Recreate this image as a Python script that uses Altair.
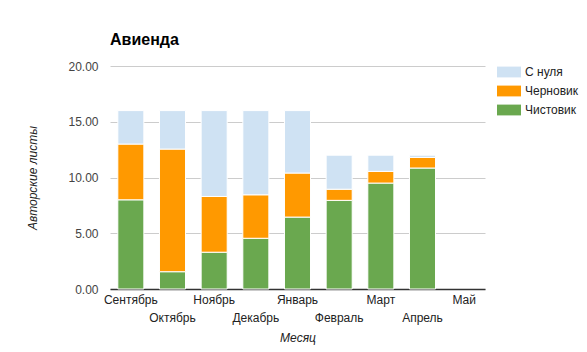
import altair as alt
import pandas as pd

months = ['Сентябрь', 'Октябрь', 'Ноябрь', 'Декабрь', 'Январь',
          'Февраль', 'Март', 'Апрель', 'Май']
series_names = ['С нуля', 'Черновик', 'Чистовик']
series_colors = ['#cfe2f3', '#ff9900', '#6aa84f']

# values per month (Май has no data)
clean = [8.0, 1.55, 3.3, 4.55, 6.45, 7.95, 9.5, 10.85]     # Чистовик
draft = [5.0, 11.0, 5.0, 3.9, 3.95, 1.0, 1.05, 0.95]      # Черновик
scratch = [3.0, 3.45, 7.7, 7.55, 5.6, 3.05, 1.45, 0.2]    # С нуля

rows = []
for i, m in enumerate(months[:len(clean)]):
    rows.append({'Месяц': m, 'Серия': 'Чистовик', 'v': clean[i], 'rank': 0})
    rows.append({'Месяц': m, 'Серия': 'Черновик', 'v': draft[i], 'rank': 1})
    rows.append({'Месяц': m, 'Серия': 'С нуля', 'v': scratch[i], 'rank': 2})
df = pd.DataFrame(rows)

FONT = 'Liberation Sans, Arial, sans-serif'
second_row = "indexof(['Октябрь','Декабрь','Февраль','Апрель'], datum.value) >= 0"

chart = alt.Chart(df).mark_bar(stroke='white', strokeWidth=1).encode(
    x=alt.X('Месяц:N', sort=months,
            scale=alt.Scale(domain=months, paddingInner=0.375, paddingOuter=0.1875),
            axis=alt.Axis(title='Месяц', labelAngle=0, labelOverlap=False,
                          labelFont=FONT, labelFontSize=12, labelColor='#222',
                          labelPadding={'condition': {'test': second_row, 'value': 23}, 'value': 5},
                          ticks=False, domainColor='#333', domainWidth=1.5,
                          titleFont=FONT, titleFontSize=12, titleFontStyle='italic',
                          titleFontWeight='normal', titleColor='#222', titlePadding=9)),
    y=alt.Y('v:Q', stack='zero',
            scale=alt.Scale(domain=[0, 20], nice=False),
            axis=alt.Axis(title='Авторские листы', values=[0, 5, 10, 15, 20], format='.2f',
                          labelFont=FONT, labelFontSize=12, labelColor='#444',
                          labelPadding=12, ticks=False, domain=False,
                          gridColor='#cccccc', gridWidth=1,
                          titleFont=FONT, titleFontSize=12, titleFontStyle='italic',
                          titleFontWeight='normal', titleColor='#222', titlePadding=28)),
    color=alt.Color('Серия:N',
                    scale=alt.Scale(domain=series_names, range=series_colors),
                    legend=alt.Legend(title=None, orient='none', legendX=393, legendY=0,
                                      symbolType='M-2,-0.9H2V0.9H-2Z', symbolSize=144,
                                      symbolStrokeWidth=0, symbolOpacity=1,
                                      labelFont=FONT, labelFontSize=12, labelColor='#222',
                                      labelOffset=10, rowPadding=7, padding=0)),
    order=alt.Order('rank:Q', sort='ascending'),
).properties(
    width=375, height=223,
    title=alt.TitleParams('Авиенда', anchor='start', frame='group', font=FONT, fontSize=16,
                          fontWeight='bold', color='#000', offset=-4, baseline='bottom'),
    autosize=alt.AutoSizeParams(type='none'),
    padding={'left': 110, 'top': 66, 'right': 102, 'bottom': 63},
).configure_view(stroke=None)

chart.save("out.html", embed_options={"renderer": "svg", "actions": False})
